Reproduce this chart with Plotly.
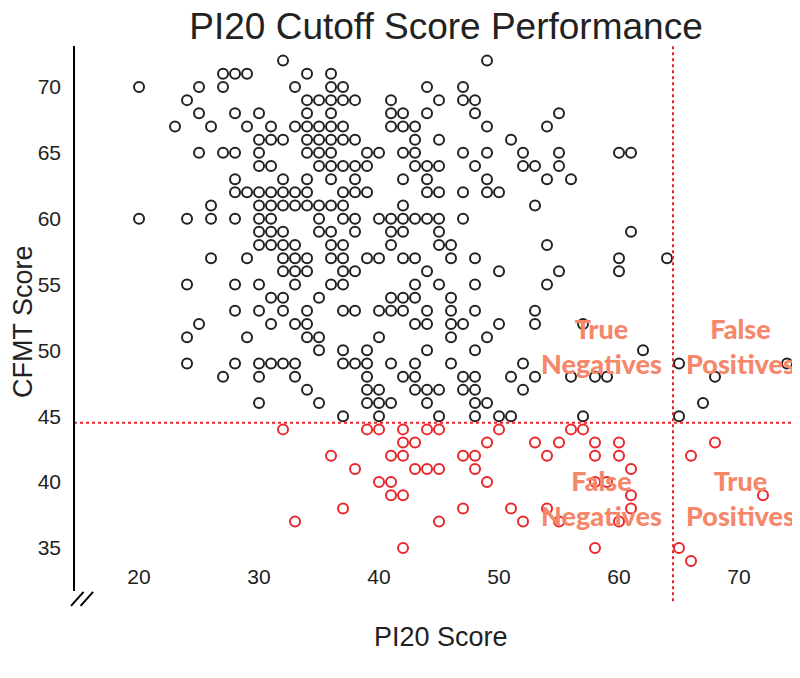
import plotly.graph_objects as go

# CFMT >= 45 (black) : PI20 score, CFMT score
pass_pi20 = [32, 49,
             27, 28, 29, 34, 36,
             20, 25, 27, 33, 36, 37, 44, 47,
             24, 34, 35, 36, 37, 38, 41, 45, 47, 48,
             25, 28, 30, 34, 36, 41, 42, 44, 48, 55,
             23, 26, 29, 31, 33, 34, 35, 36, 37, 41, 42, 43, 49, 54,
             30, 31, 32, 34, 35, 36, 37, 38, 43, 45, 51,
             25, 27, 28, 30, 34, 35, 36, 39, 40, 42, 43, 47, 49, 52, 55, 60, 61,
             30, 31, 35, 36, 37, 38, 39, 43, 44, 45, 48, 52, 53, 55,
             28, 32, 34, 36, 38, 42, 44, 49, 54, 56,
             28, 29, 30, 31, 32, 33, 34, 37, 38, 39, 44, 45, 47, 49, 50,
             26, 30, 31, 32, 33, 34, 35, 36, 37, 42, 53,
             20, 24, 26, 28, 30, 31, 35, 37, 38, 40, 41, 42, 43, 44, 45, 47,
             30, 31, 32, 35, 36, 38, 41, 42, 45, 61,
             30, 31, 32, 33, 36, 37, 41, 45, 46, 54,
             26, 29, 32, 33, 34, 36, 37, 39, 40, 42, 43, 46, 48, 60, 64,
             32, 33, 34, 37, 38, 44, 50, 55, 60,
             24, 28, 30, 33, 36, 37, 43, 45, 48, 54,
             31, 32, 35, 41, 42, 43, 46,
             28, 30, 32, 34, 37, 38, 40, 41, 42, 44, 46, 48, 53,
             25, 31, 33, 34, 43, 44, 46, 47, 50, 53, 57,
             24, 29, 34, 35, 40, 46, 49,
             35, 37, 39, 44, 48, 62,
             24, 28, 30, 31, 32, 33, 37, 38, 39, 41, 43, 46, 52, 65, 74,
             27, 30, 33, 39, 42, 43, 47, 48, 51, 53, 56, 58, 59, 68,
             34, 39, 40, 43, 44, 45, 47, 48, 52,
             30, 35, 39, 40, 41, 44, 48, 49, 67,
             37, 40, 45, 48, 50, 51, 57, 65]
pass_cfmt = ([72] * 2 + [71] * 5 + [70] * 8 + [69] * 10 + [68] * 10 + [67] * 14 +
             [66] * 11 + [65] * 17 + [64] * 14 + [63] * 10 + [62] * 15 + [61] * 11 +
             [60] * 16 + [59] * 10 + [58] * 10 + [57] * 15 + [56] * 9 + [55] * 10 +
             [54] * 7 + [53] * 13 + [52] * 11 + [51] * 7 + [50] * 6 + [49] * 15 +
             [48] * 14 + [47] * 9 + [46] * 9 + [45] * 8)

# CFMT < 45 (red)
fail_pi20 = [32, 39, 40, 42, 44, 45, 50, 56, 57,
             42, 43, 49, 53, 55, 58, 60, 68,
             36, 41, 42, 47, 48, 54, 58, 60, 66,
             38, 43, 44, 45, 48, 61,
             40, 41, 49, 58, 59,
             41, 42, 61, 72,
             37, 47, 51, 54, 61,
             33, 45, 52, 55, 60,
             42, 58, 65,
             66,
             62]
fail_cfmt = ([44] * 9 + [43] * 8 + [42] * 9 + [41] * 6 + [40] * 5 + [39] * 4 +
             [38] * 5 + [37] * 5 + [35] * 3 + [34] * 1 + [33] * 1)

x_ticks = [20, 30, 40, 50, 60, 70]
y_ticks = [35, 40, 45, 50, 55, 60, 65, 70]
pi20_cutoff = 64.5
cfmt_cutoff = 44.5

RED = "#e8262b"
SALMON = "#f5876a"
INK = "#222222"

fig = go.Figure()
fig.add_trace(go.Scatter(x=pass_pi20, y=pass_cfmt, mode="markers", cliponaxis=False,
                         marker=dict(symbol="circle-open", size=10, color=INK,
                                     line=dict(width=2, color=INK)),
                         showlegend=False))
fig.add_trace(go.Scatter(x=fail_pi20, y=fail_cfmt, mode="markers", cliponaxis=False,
                         marker=dict(symbol="circle-open", size=10, color=RED,
                                     line=dict(width=2, color=RED)),
                         showlegend=False))

# cutoff lines
fig.add_shape(type="line", xref="x", yref="paper", x0=pi20_cutoff, x1=pi20_cutoff,
              y0=-0.076, y1=1, line=dict(color=RED, width=2, dash="dot"))
fig.add_shape(type="line", xref="paper", yref="y", x0=0, x1=1, y0=cfmt_cutoff, y1=cfmt_cutoff,
              line=dict(color=RED, width=2, dash="dot"))

# y axis line extended below the data, with break marks
fig.add_shape(type="line", xref="paper", yref="paper", x0=0, x1=0, y0=-0.056, y1=1,
              line=dict(color="black", width=2))
for dx in [0.0, 0.013]:
    fig.add_shape(type="line", xref="paper", yref="paper",
                  x0=-0.004 + dx, x1=0.013 + dx, y0=-0.085, y1=-0.058,
                  line=dict(color="black", width=2))

quad_labels = [("True<br>Negatives", 58.5, 50.3), ("False<br>Positives", 70.1, 50.3),
               ("False<br>Negatives", 58.5, 38.8), ("True<br>Positives", 70.1, 38.8)]
for txt, lx, ly in quad_labels:
    fig.add_annotation(x=lx, y=ly, text=txt, showarrow=False,
                       xanchor="center", yanchor="middle",
                       font=dict(family="Lato, Liberation Sans, sans-serif", weight=900,
                                 size=27, color=SALMON))

fig.add_annotation(xref="paper", yref="paper", x=0.5, y=-0.145, text="PI20 Score",
                   xanchor="center", yanchor="middle",
                   showarrow=False, font=dict(size=27, color=INK))
fig.add_annotation(xref="paper", yref="paper", x=-0.0695, y=0.467, text="CFMT Score",
                   xanchor="center", yanchor="middle",
                   textangle=-90, showarrow=False, font=dict(size=27, color=INK))

fig.update_layout(
    width=800, height=678,
    margin=dict(l=66, r=0, t=38, b=124),
    paper_bgcolor="white", plot_bgcolor="white",
    font=dict(family="Liberation Sans, Arial, sans-serif", color=INK),
    title=dict(text="PI20 Cutoff Score Performance", x=0.5475, xanchor="center",
               xref="container", y=0.993, yanchor="top", font=dict(size=37, color=INK)),
    xaxis=dict(range=[14.58, 75.75], tickvals=x_ticks, showgrid=False, zeroline=False,
               showline=False, ticks="", tickfont=dict(size=21), automargin=False),
    yaxis=dict(range=[33.93, 73.11], tickvals=y_ticks, showgrid=False, zeroline=False,
               showline=False, ticks="", tickfont=dict(size=21), automargin=False,
               ticklabelstandoff=12),
)

fig.write_html("out.html")
